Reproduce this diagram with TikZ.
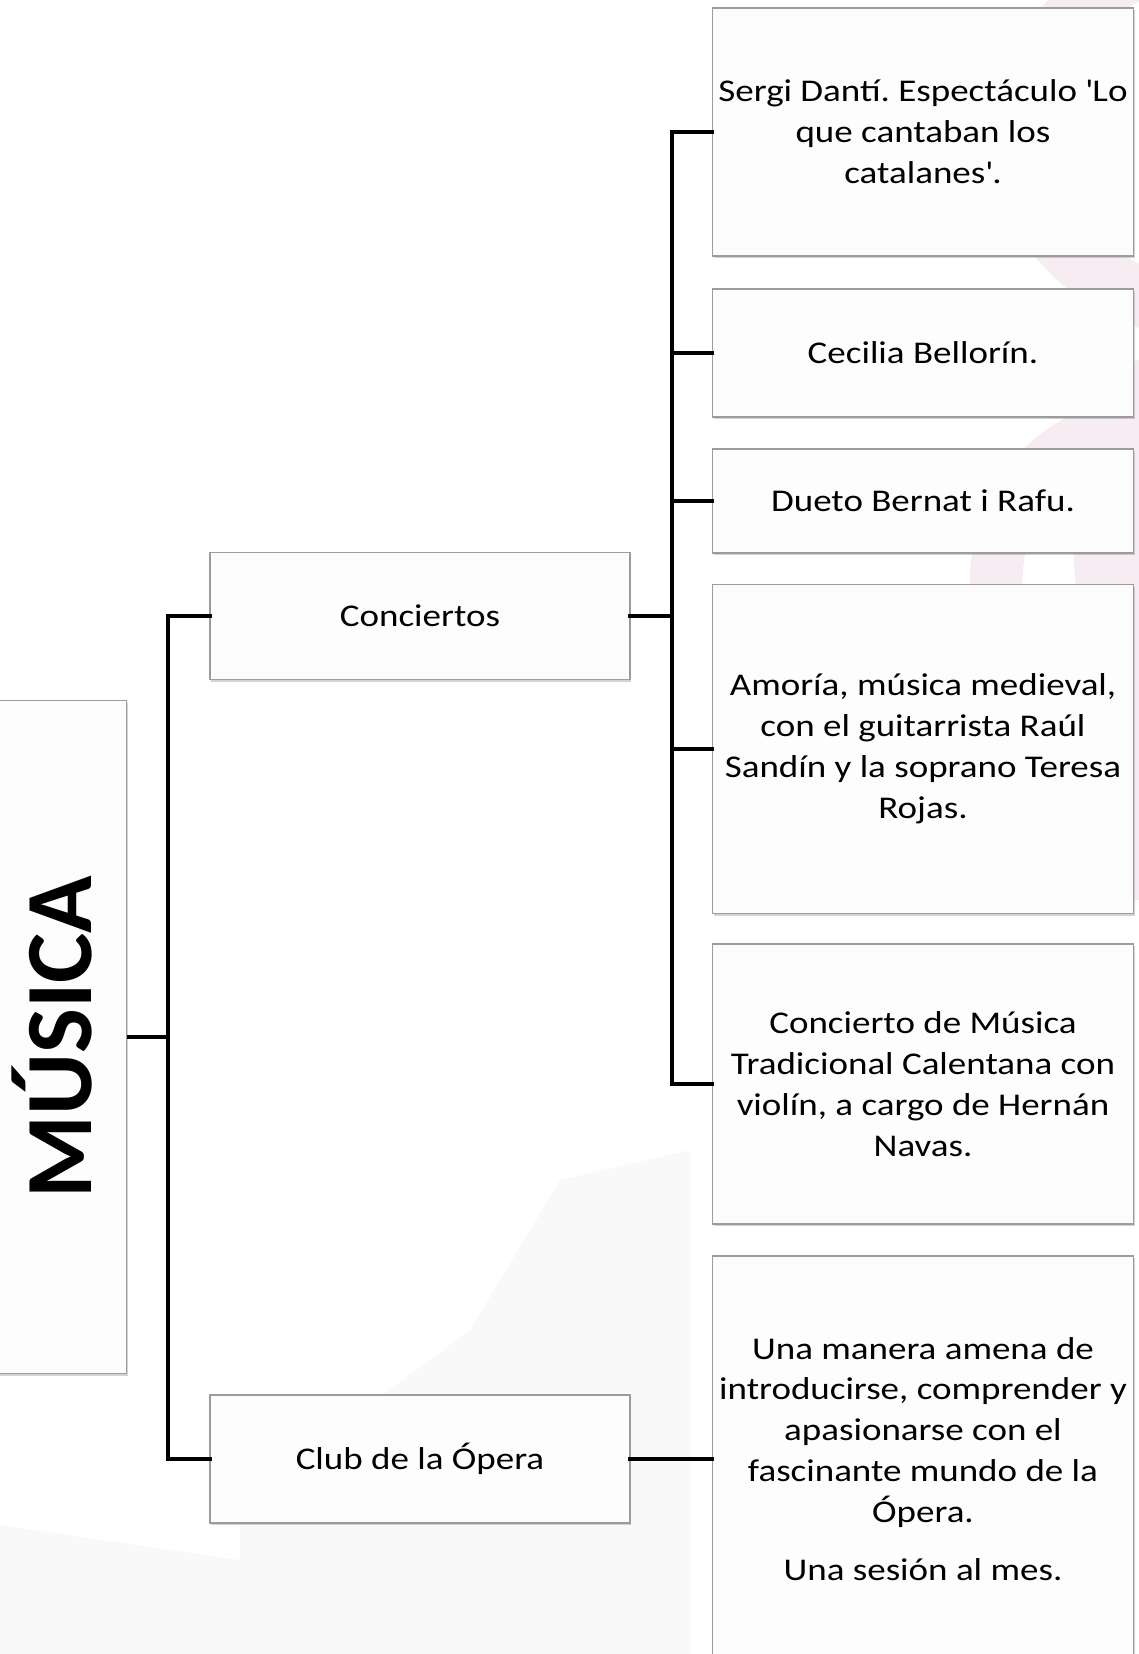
\documentclass[tikz,border=0pt]{standalone}
\usepackage{fontspec}
\setmainfont{Carlito}
\newfontfamily\boxfont[FakeStretch=1.17]{Carlito}
\usetikzlibrary{shadows}
\frenchspacing

\definecolor{boxline}{HTML}{9C9C9C}
\definecolor{boxfill}{HTML}{FDFDFD}
\definecolor{markpink}{HTML}{F8ECF3}
\definecolor{markgray}{HTML}{F9F9FA}

\tikzset{
  leaf/.style={draw=boxline, line width=0.6pt, fill=boxfill, align=center,
    font=\boxfont\fontsize{18}{23.3}\selectfont, inner sep=0pt,
    drop shadow={shadow xshift=0.6pt, shadow yshift=-1.2pt, opacity=0.35}},
  branch/.style={line width=2.7pt, line cap=rect}
}

\begin{document}
\begin{tikzpicture}[x=0.02cm, y=-0.02cm]
\useasboundingbox (0,0) rectangle (1139,1654);

%% faint background marks
\fill[markgray] (0,1525) -- (240,1560) -- (240,1500) -- (470,1330) -- (560,1180) -- (690,1150) -- (690,1654) -- (0,1654) -- cycle;
\draw[markpink, line width=34pt] (1150,-40) .. controls (960,60) and (1000,250) .. (1150,300);
\draw[markpink, line width=30pt] (1150,420) .. controls (1040,430) and (980,520) .. (1000,620);
\fill[markpink] (1060,380) -- (1139,360) -- (1139,900) -- (1100,900) -- cycle;

%% root
\node[leaf, minimum width=137*0.02cm, minimum height=673*0.02cm] (musica) at (58,1037) {};
\node[rotate=90, font=\fontsize{54}{60}\selectfont\bfseries] (musicatxt) at (52,1037) {MÚSICA};

%% second level
\node[leaf, minimum width=420*0.02cm, minimum height=127*0.02cm] (conciertos) at (420,616) {Conciertos};
\node[leaf, minimum width=420*0.02cm, minimum height=128*0.02cm] (club) at (420,1459) {Club de la Ópera};

%% concerts
\node[leaf, minimum width=421*0.02cm, minimum height=248*0.02cm] (danti) at (923,132)
  {Sergi Dantí. Espectáculo \textquotesingle Lo\\ que cantaban los\\ catalanes\textquotesingle.};
\node[leaf, minimum width=421*0.02cm, minimum height=128*0.02cm] (bellorin) at (923,353) {Cecilia Bellorín.};
\node[leaf, minimum width=421*0.02cm, minimum height=104*0.02cm] (dueto) at (923,501) {Dueto Bernat i Rafu.};
\node[leaf, minimum width=421*0.02cm, minimum height=329*0.02cm] (amoria) at (923,749)
  {Amoría, música medieval,\\ con el guitarrista Raúl\\ Sandín y la soprano Teresa\\ Rojas.};
\node[leaf, minimum width=421*0.02cm, minimum height=280*0.02cm] (calentana) at (923,1084)
  {Concierto de Música\\ Tradicional Calentana con\\ violín, a cargo de Hernán\\ Navas.};

%% opera
\node[leaf, minimum width=421*0.02cm, minimum height=406*0.02cm] (sesion) at (923,1459)
  {Una manera amena de\\ introducirse, comprender y\\ apasionarse con el\\ fascinante mundo de la\\ Ópera.\\[0.34cm] Una sesión al mes.};

%% connectors
\coordinate (spine1) at (168,1037);
\coordinate (spine2) at (672,616);

\draw[line width=2pt] (musica.east) -- (spine1);
\draw[branch] (conciertos.west) -| (spine1) |- (club.west);
\draw[branch] (conciertos.east) -- (spine2);
\draw[branch] (spine2) |- (danti.west);
\draw[branch] (spine2) |- (bellorin.west);
\draw[branch] (spine2) |- (dueto.west);
\draw[branch] (spine2) |- (amoria.west);
\draw[branch] (spine2) |- (calentana.west);
\draw[branch] (club.east) -- (sesion.west);

\end{tikzpicture}
\end{document}
